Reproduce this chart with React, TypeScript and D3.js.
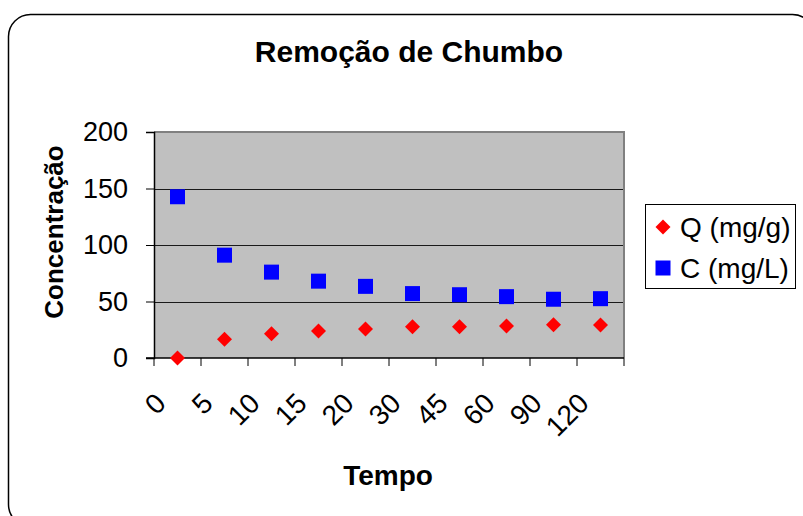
import React, { useEffect, useRef } from 'react';
import * as d3 from 'd3';

const categories = ['0', '5', '10', '15', '20', '30', '45', '60', '90', '120'];
const qValues = [0, 16.5, 21.5, 24, 25.7, 27.7, 27.7, 28.3, 29.5, 29.2];
const cValues = [142.7, 91, 76, 68, 63.4, 57, 56, 54.3, 52, 52.5];
const yTicks = [0, 50, 100, 150, 200];
const seriesNames = ['Q (mg/g)', 'C (mg/L)'];

const FONT = 'Arial, "Liberation Sans", sans-serif';

const App: React.FC = () => {
  const svgRef = useRef<SVGSVGElement>(null);

  useEffect(() => {
    const svg = d3.select(svgRef.current);
    svg.selectAll('*').remove();

    const plot = { left: 154, top: 132, right: 624, bottom: 358 };

    // outer chart border
    svg.append('rect')
      .attr('x', 8.5).attr('y', 14.5)
      .attr('width', 806).attr('height', 512)
      .attr('rx', 22).attr('ry', 22)
      .attr('fill', '#fff').attr('stroke', '#000').attr('stroke-width', 1.5);

    const x = d3.scaleBand()
      .domain(categories)
      .range([plot.left, plot.right]);

    const y = d3.scaleLinear()
      .domain([0, 200])
      .range([plot.bottom, plot.top]);

    // plot background
    svg.append('rect')
      .attr('x', plot.left).attr('y', plot.top)
      .attr('width', plot.right - plot.left).attr('height', plot.bottom - plot.top)
      .attr('fill', '#c0c0c0');

    // gridlines
    svg.append('g')
      .selectAll('line')
      .data(yTicks.filter(d => d > 0 && d < 200))
      .enter()
      .append('line')
      .attr('x1', plot.left).attr('x2', plot.right)
      .attr('y1', d => Math.round(y(d)) + 0.5).attr('y2', d => Math.round(y(d)) + 0.5)
      .attr('stroke', '#1a1a1a').attr('stroke-width', 1);

    // top and right border
    svg.append('path')
      .attr('d', `M${plot.left},${plot.top} H${plot.right} V${plot.bottom}`)
      .attr('fill', 'none').attr('stroke', '#808080').attr('stroke-width', 2);

    // y axis
    const yAxis = svg.append('g')
      .attr('transform', `translate(${plot.left},0)`)
      .call(d3.axisLeft(y).tickValues(yTicks).tickSize(8).tickPadding(18));
    yAxis.select('.domain').attr('stroke', '#000').attr('stroke-width', 1.5);
    yAxis.selectAll('.tick line').attr('stroke', '#000');
    yAxis.selectAll('text')
      .attr('font-family', FONT).attr('font-size', 27).attr('fill', '#000');

    // x axis
    const xAxis = svg.append('g')
      .attr('transform', `translate(0,${plot.bottom})`);
    xAxis.append('line')
      .attr('x1', plot.left - 8).attr('x2', plot.right)
      .attr('y1', 0).attr('y2', 0)
      .attr('stroke', '#000').attr('stroke-width', 1.5);
    xAxis.selectAll('.xt')
      .data([...categories.map(c => x(c) as number), plot.right])
      .enter()
      .append('line')
      .attr('x1', d => d).attr('x2', d => d)
      .attr('y1', 0).attr('y2', 8)
      .attr('stroke', '#000');
    xAxis.selectAll('text')
      .data(categories)
      .enter()
      .append('text')
      .attr('transform', d => `translate(${(x(d) as number) + x.bandwidth() / 2 - 10},47) rotate(-45)`)
      .attr('text-anchor', 'end')
      .attr('font-family', FONT).attr('font-size', 28)
      .text(d => d);

    const cx = (d: string) => (x(d) as number) + x.bandwidth() / 2;

    // series C: squares
    svg.append('g')
      .selectAll('rect')
      .data(categories)
      .enter()
      .append('rect')
      .attr('x', d => cx(d) - 7.5)
      .attr('y', (d, i) => y(cValues[i]) - 7.5)
      .attr('width', 15).attr('height', 15)
      .attr('fill', '#0000ff');

    // series Q: diamonds
    const diamond = (px: number, py: number, r: number) =>
      `M${px},${py - r} L${px + r},${py} L${px},${py + r} L${px - r},${py} Z`;
    svg.append('g')
      .selectAll('path')
      .data(categories)
      .enter()
      .append('path')
      .attr('d', (d, i) => diamond(cx(d), y(qValues[i]), 7.5))
      .attr('fill', '#ff0000');

    // title
    svg.append('text')
      .attr('x', 409).attr('y', 62)
      .attr('text-anchor', 'middle')
      .attr('font-family', FONT).attr('font-size', 30).attr('font-weight', 'bold')
      .text('Remoção de Chumbo');

    // axis titles
    svg.append('text')
      .attr('transform', 'translate(63,232) rotate(-90)')
      .attr('text-anchor', 'middle')
      .attr('font-family', FONT).attr('font-size', 26).attr('font-weight', 'bold')
      .text('Concentração');

    svg.append('text')
      .attr('x', 388).attr('y', 485)
      .attr('text-anchor', 'middle')
      .attr('font-family', FONT).attr('font-size', 28).attr('font-weight', 'bold')
      .text('Tempo');

    // legend
    const legend = svg.append('g');
    legend.append('rect')
      .attr('x', 645.5).attr('y', 204.5)
      .attr('width', 150).attr('height', 84)
      .attr('fill', '#fff').attr('stroke', '#000').attr('stroke-width', 1);
    seriesNames.forEach((name, i) => {
      const ly = 227 + i * 41;
      if (i === 0) {
        legend.append('path').attr('d', diamond(663, ly, 7.5)).attr('fill', '#ff0000');
      } else {
        legend.append('rect')
          .attr('x', 655.5).attr('y', ly - 7.5)
          .attr('width', 15).attr('height', 15)
          .attr('fill', '#0000ff');
      }
      legend.append('text')
        .attr('x', 680).attr('y', ly + 10)
        .attr('font-family', FONT).attr('font-size', 28)
        .text(name);
    });
  }, []);

  return (
    <svg
      ref={svgRef}
      width={803}
      height={516}
      style={{ position: 'absolute', left: 0, top: 0, background: '#fff' }}
    ></svg>
  );
};

export default App;
